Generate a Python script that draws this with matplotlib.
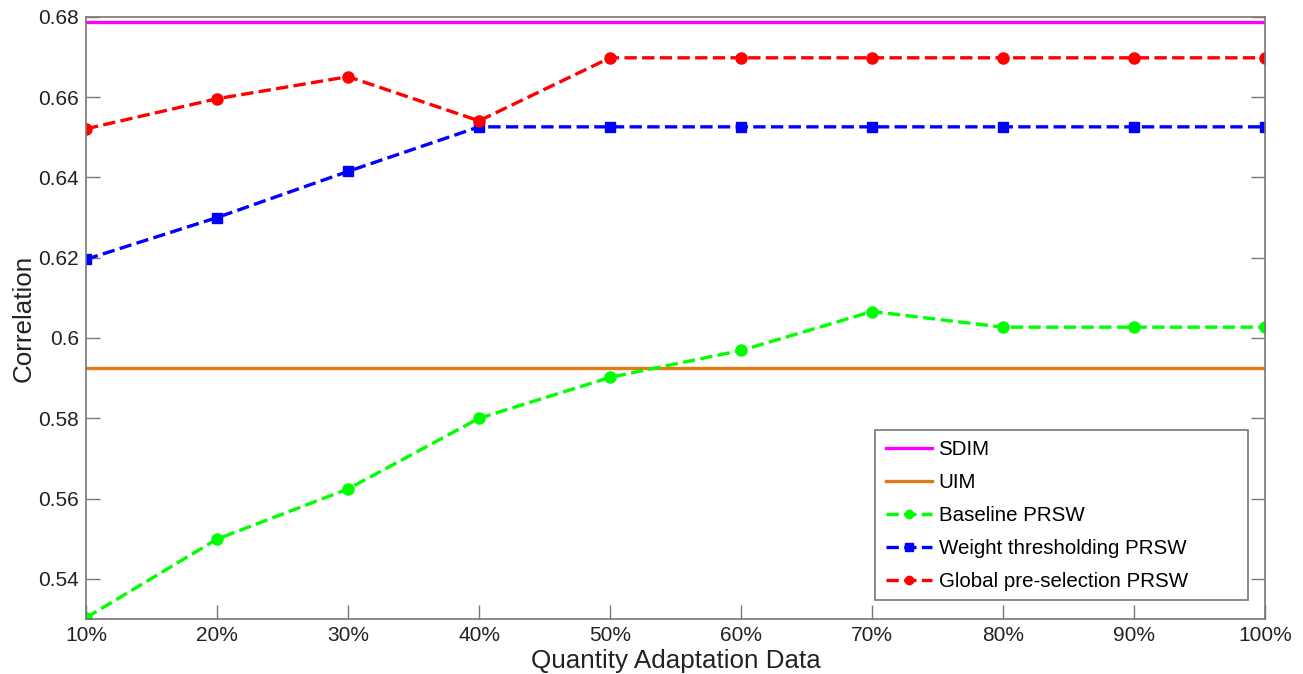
import numpy as np
import matplotlib.pyplot as plt
from matplotlib.patches import Rectangle

plt.rcParams["font.family"] = ["Liberation Sans", "DejaVu Sans"]

pct_labels = ["10%", "20%", "30%", "40%", "50%", "60%", "70%", "80%", "90%", "100%"]
sdim = 0.6788
uim = 0.5925
baseline = [0.5303, 0.5499, 0.5624, 0.5800, 0.5902, 0.5969, 0.6066, 0.6027, 0.6027, 0.6027]
weight_thr = [0.6196, 0.6300, 0.6415, 0.6526, 0.6526, 0.6526, 0.6526, 0.6526, 0.6526, 0.6526]
global_pre = [0.6521, 0.6596, 0.6651, 0.6541, 0.6698, 0.6698, 0.6698, 0.6698, 0.6698, 0.6698]

x = np.arange(len(pct_labels))

fig = plt.figure(figsize=(13.03, 6.74), dpi=100)
ax = fig.add_axes([0.066, 0.0816, 0.905, 0.8934])

ax.plot(x, [sdim] * len(x), color="#ff00ff", lw=2.4, label="SDIM")
ax.plot(x, [uim] * len(x), color="#e07b16", lw=2.4, label="UIM")
ax.plot(x, baseline, "--", color="#00ff00", lw=2.4, marker="o", ms=8, label="Baseline PRSW")
ax.plot(x, weight_thr, "--", color="#0000ff", lw=2.4, marker="s", ms=7, label="Weight thresholding PRSW")
ax.plot(x, global_pre, "--", color="#ff0000", lw=2.4, marker="o", ms=8, label="Global pre-selection PRSW")

ax.set_xlim(0, len(x) - 1)
ax.set_ylim(0.53, 0.68)
ax.set_xticks(x)
ax.set_xticklabels(pct_labels)
ax.set_yticks([0.54, 0.56, 0.58, 0.60, 0.62, 0.64, 0.66, 0.68])
ax.set_yticklabels(["0.54", "0.56", "0.58", "0.6", "0.62", "0.64", "0.66", "0.68"])
ax.tick_params(direction="in", length=10, width=1, colors="#222222", labelsize=15,
               top=False, right=True, color="#777777")
ax.tick_params(axis="x", pad=5)
ax.tick_params(axis="y", pad=5)
for s in ax.spines.values():
    s.set_color("#777777")
    s.set_linewidth(1.2)

ax.set_xlabel("Quantity Adaptation Data", fontsize=18.7, labelpad=3, color="#222222")
ax.set_ylabel("Correlation", fontsize=18.7, labelpad=2, color="#222222")

# legend box drawn separately so it keeps the wide right margin
ax.add_patch(Rectangle((0.669, 0.0316), 0.3166, 0.2824, transform=ax.transAxes,
                       facecolor="white", edgecolor="#777777", lw=1.2, zorder=5))
leg = ax.legend(loc="upper left", bbox_to_anchor=(0.6785, 0.2965), fontsize=14.8,
                frameon=False, borderpad=0, borderaxespad=0,
                handlelength=2.25, handletextpad=0.3, labelspacing=0.68)
leg.set_zorder(6)
for h in leg.legend_handles:
    h.set_markersize(6)

fig.savefig("out.png", dpi=100)
